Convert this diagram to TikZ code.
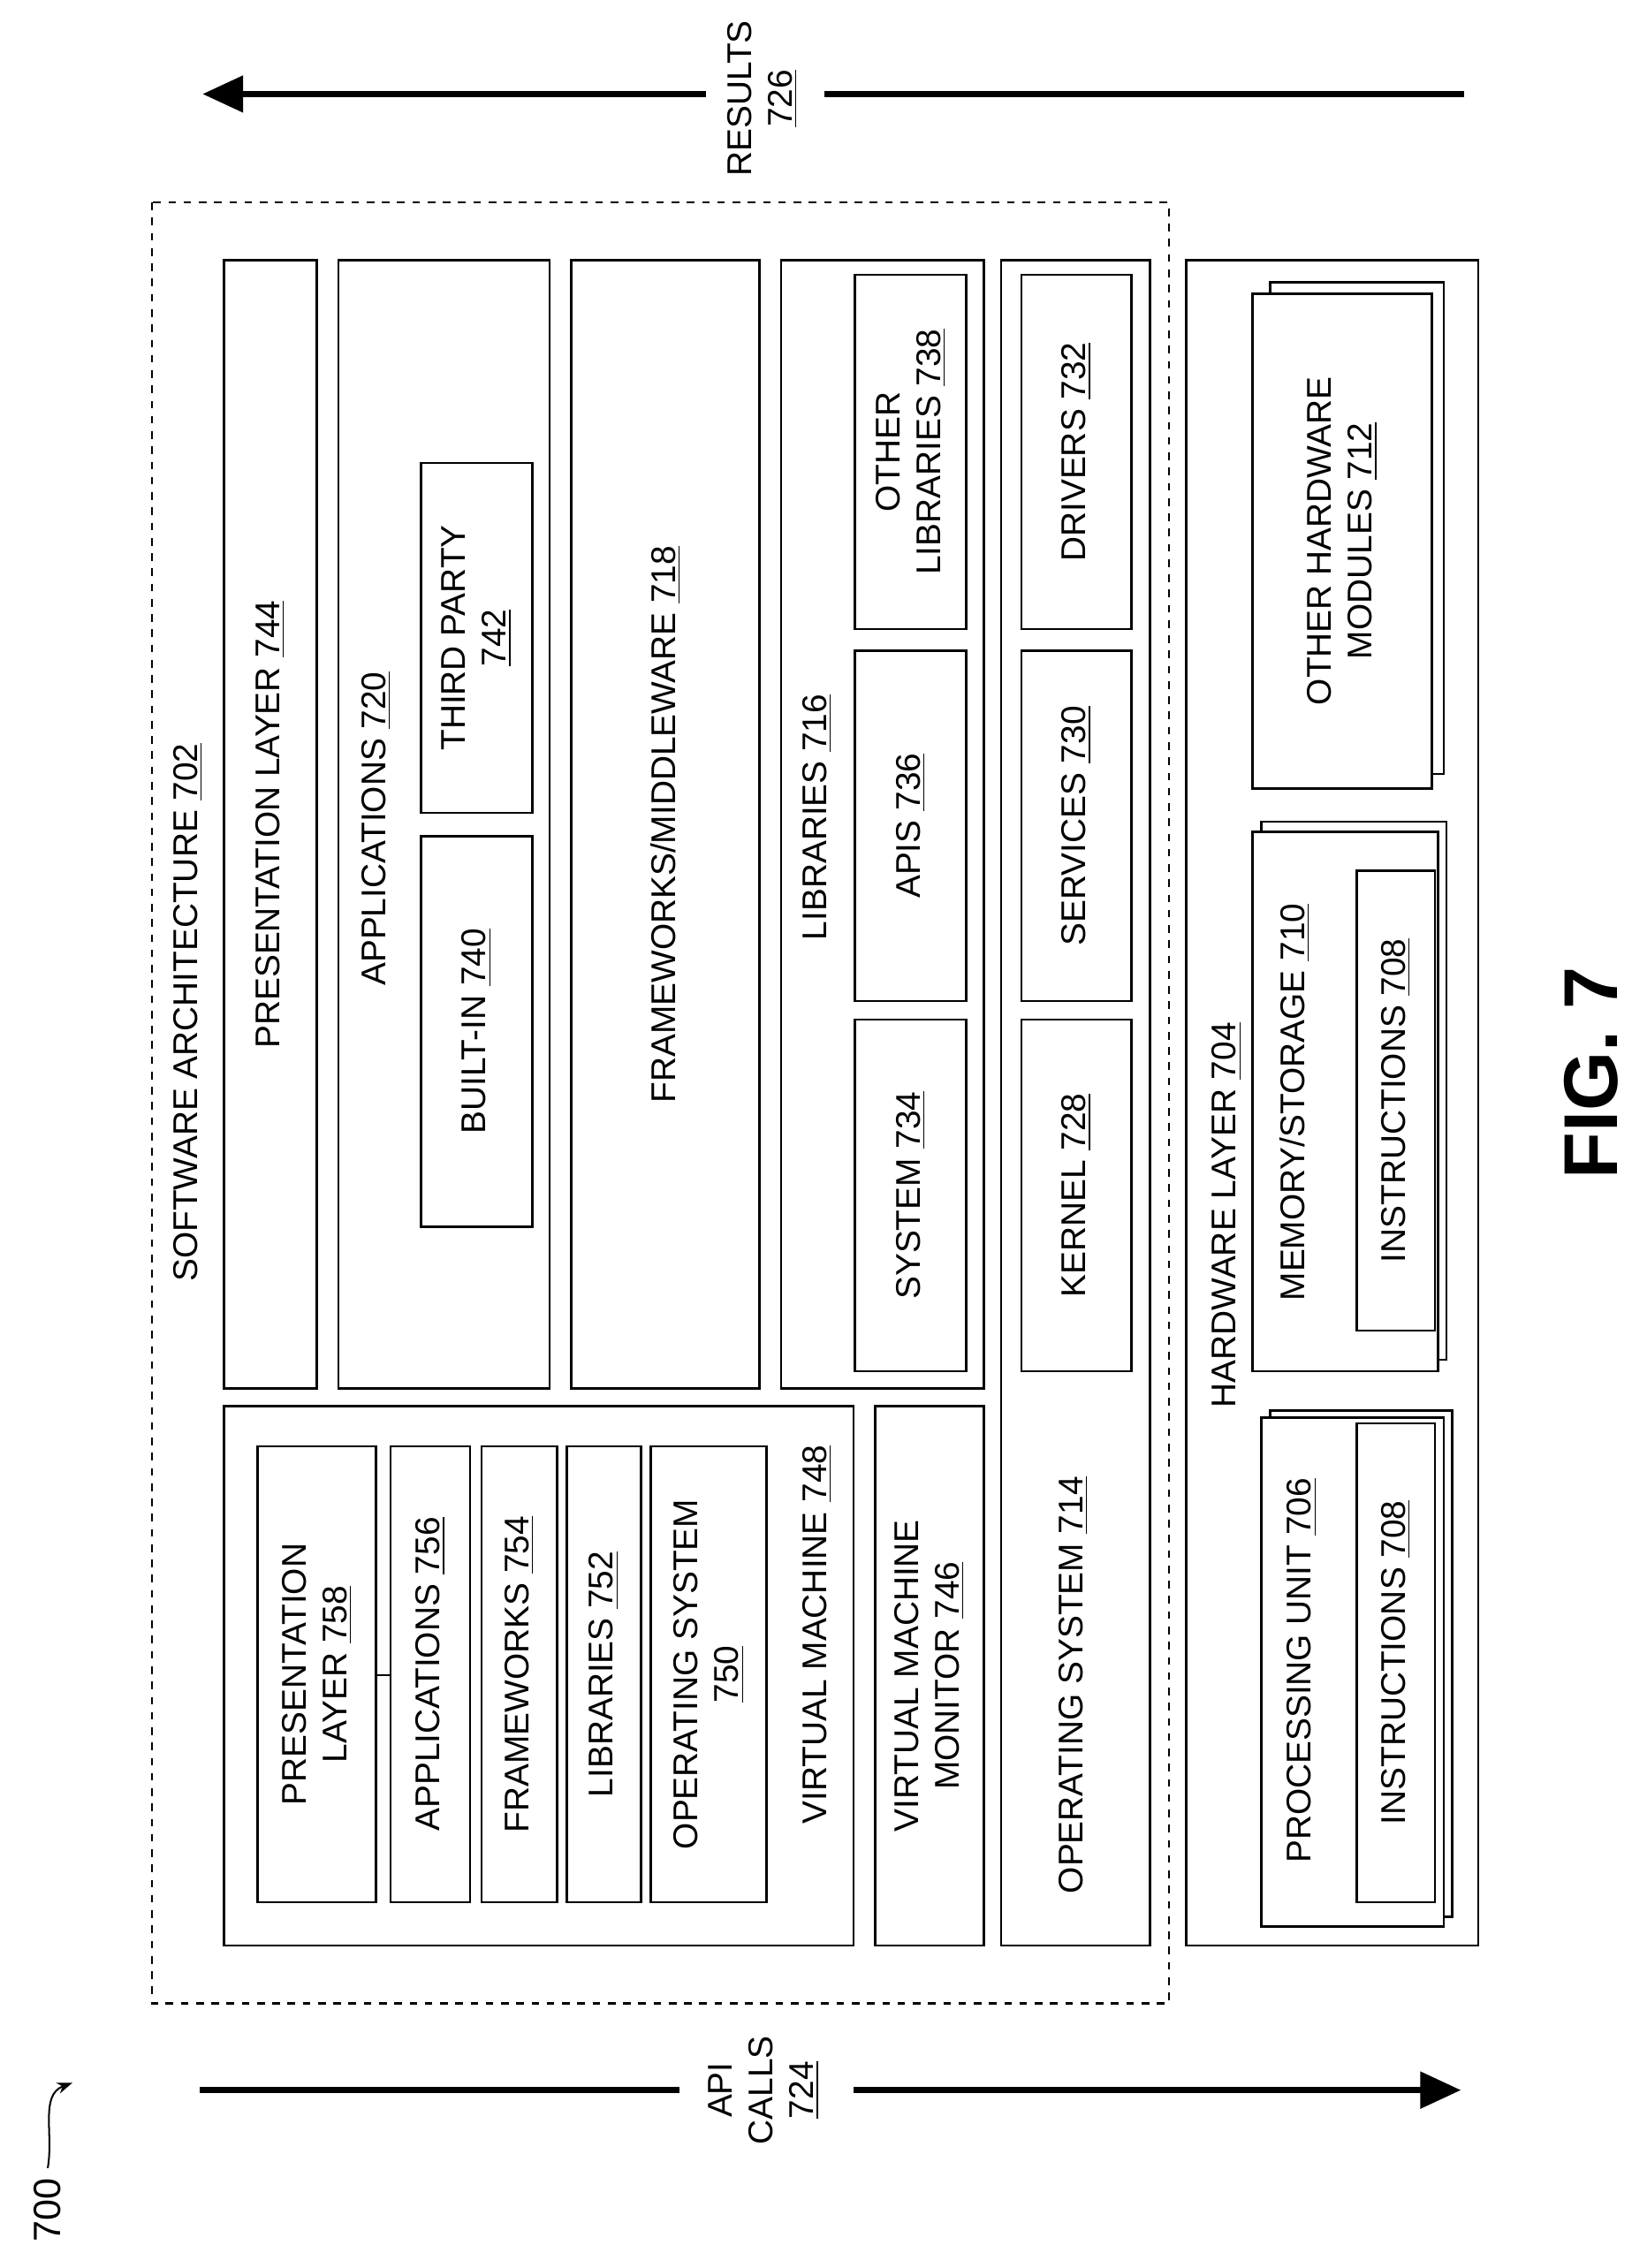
\documentclass[tikz,border=0pt]{standalone}
\usepackage{fontspec}
\setmainfont{Liberation Sans}
\usetikzlibrary{arrows.meta}
\newcommand{\ulnum}[1]{\underline{#1}}
\begin{document}
\begin{tikzpicture}[x=0.02cm,y=-0.02cm,
                    box/.style={draw,line width=0.9pt},
                    lbl/.style={rotate=90,font=\fontsize{13.5}{16}\selectfont,align=center,inner sep=1pt},
                    flow/.style={line width=2.6pt,-{Triangle[length=16pt,width=14pt]}},]
  \useasboundingbox (0,0) rectangle (1128,1568);
  % results and api calls
  \coordinate (r0) at (1012,65);  \coordinate (r1) at (570,65);
  \coordinate (r2) at (488,65);   \coordinate (r3) at (140,65);
  \draw[line width=2.6pt] (r0) -- (r1);
  \draw[flow] (r2) -- (r3);
  \node[lbl] (res) at (527,68) {RESULTS\\\ulnum{726}};
  \coordinate (a0) at (138,1445); \coordinate (a1) at (470,1445);
  \coordinate (a2) at (590,1445); \coordinate (a3) at (1010,1445);
  \draw[line width=2.6pt] (a0) -- (a1);
  \draw[flow] (a2) -- (a3);
  \node[lbl] (api) at (528,1445) {API\\CALLS\\\ulnum{724}};
  \node[lbl,font=\fontsize{15}{18}\selectfont] (fig) at (33,1528) {700};
  \coordinate (fe) at (50,1440);
  \draw[-{Stealth[length=6pt]},line width=0.7pt] (fig.east)++(0,-5) to[out=80,in=200] (fe);
  \node[rotate=90,font=\fontsize{30}{34}\selectfont\bfseries] (f7) at (1100,742) {FIG. 7};
  % software architecture
  \draw[box,dashed] (105,140) rectangle (808,1385);
  \node[lbl] (sa) at (130,700) {SOFTWARE ARCHITECTURE \ulnum{702}};
  \draw[box] (155,180) rectangle (219,960) node[midway,lbl] (pl) {PRESENTATION LAYER \ulnum{744}};
  \draw[box] (234,180) rectangle (380,960);
  \node[lbl] (app) at (260,573) {APPLICATIONS \ulnum{720}};
  \draw[box] (291,578) rectangle (368,848) node[midway,lbl] (bi) {BUILT-IN \ulnum{740}};
  \draw[box] (291,320) rectangle (368,562) node[midway,lbl] (tp) {THIRD PARTY\\\ulnum{742}};
  \draw[box] (395,180) rectangle (525,960) node[midway,lbl] (fw) {FRAMEWORKS/MIDDLEWARE \ulnum{718}};
  \draw[box] (540,180) rectangle (680,960);
  \node[lbl] (lib) at (565,565) {LIBRARIES \ulnum{716}};
  \draw[box] (591,705) rectangle (668,948) node[midway,lbl] (sys) {SYSTEM \ulnum{734}};
  \draw[box] (591,450) rectangle (668,692) node[midway,lbl] (apis) {APIS \ulnum{736}};
  \draw[box] (591,190) rectangle (668,435) node[midway,lbl] (ol) {OTHER\\LIBRARIES \ulnum{738}};
  \draw[box] (692,180) rectangle (795,1345);
  \node[lbl] (os) at (742,1165) {OPERATING SYSTEM \ulnum{714}};
  \draw[box] (706,705) rectangle (782,948) node[midway,lbl] (ker) {KERNEL \ulnum{728}};
  \draw[box] (706,450) rectangle (782,692) node[midway,lbl] (srv) {SERVICES \ulnum{730}};
  \draw[box] (706,190) rectangle (782,435) node[midway,lbl] (drv) {DRIVERS \ulnum{732}};
  \draw[box] (605,972) rectangle (680,1345) node[midway,lbl] (vmm) {VIRTUAL MACHINE\\MONITOR \ulnum{746}};
  % virtual machine
  \draw[box] (155,972) rectangle (590,1345);
  \node[lbl] (vm) at (565,1130) {VIRTUAL MACHINE \ulnum{748}};
  \draw[box] (178,1000) rectangle (260,1315) node[midway,lbl] (vpl) {PRESENTATION\\LAYER \ulnum{758}};
  \draw[box] (270,1000) rectangle (325,1315) node[midway,lbl] (vap) {APPLICATIONS \ulnum{756}};
  \draw[box] (333,1000) rectangle (385,1315) node[midway,lbl] (vfw) {FRAMEWORKS \ulnum{754}};
  \draw[box] (392,1000) rectangle (443,1315) node[midway,lbl] (vlb) {LIBRARIES \ulnum{752}};
  \draw[box] (450,1000) rectangle (530,1315) node[midway,lbl] (vos) {OPERATING SYSTEM\\\ulnum{750}};
  \draw[line width=0.7pt] (vpl.south) ++(0,0) coordinate (t0) (260,1158) -- (270,1158);
  % hardware layer
  \draw[box] (820,180) rectangle (1022,1345);
  \node[lbl] (hw) at (848,840) {HARDWARE LAYER \ulnum{704}};
  \draw[box] (878,195) rectangle (998,535);
  \draw[box,fill=white] (866,203) rectangle (990,545) node[midway,lbl] (ohm) {OTHER HARDWARE\\MODULES \ulnum{712}};
  \draw[box] (872,568) rectangle (1000,940);
  \draw[box,fill=white] (866,575) rectangle (994,948);
  \node[lbl] (mem) at (895,762) {MEMORY/STORAGE \ulnum{710}};
  \draw[box] (938,602) rectangle (992,920) node[midway,lbl] (ins1) {INSTRUCTIONS \ulnum{708}};
  \draw[box] (878,975) rectangle (1004,1325);
  \draw[box,fill=white] (872,980) rectangle (998,1332);
  \node[lbl] (pu) at (900,1155) {PROCESSING UNIT \ulnum{706}};
  \draw[box] (938,984) rectangle (992,1315) node[midway,lbl] (ins2) {INSTRUCTIONS \ulnum{708}};
\end{tikzpicture}
\end{document}
